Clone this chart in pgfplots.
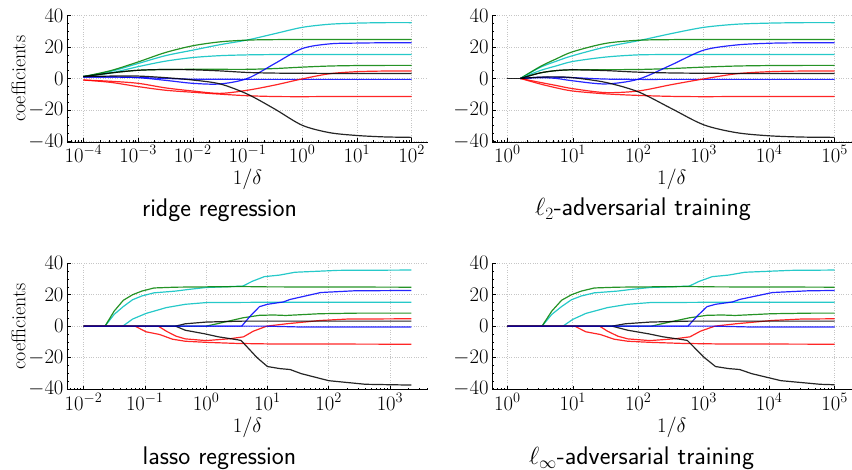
\documentclass[border=0pt]{standalone}
\usepackage{pgfplots}
\pgfplotsset{compat=1.18}
\usepackage{pgfplotstable}

\definecolor{mcyan}{rgb}{0,0.75,0.75}
\definecolor{mgreen}{rgb}{0,0.5,0}

\pgfplotsset{
  coefax/.style={
    scale only axis, height=126.5bp,
    ymin=-40.5, ymax=40,
    ytick={-40,-20,0,20,40}, minor y tick num=3,
    axis lines*=left, axis line style={black, line width=0.6bp},
    tick align=inside, major tick length=4bp, minor tick length=2bp,
    tick style={black, line width=0.5bp},
    grid=major, grid style={dotted, gray!45, line width=0.6bp},
    tick label style={font=\fontsize{20bp}{24bp}\selectfont},
    xlabel style={font=\fontsize{20bp}{24bp}\selectfont},
    ylabel shift=-4bp,
    xlabel={$1/\delta$},
    every axis plot/.append style={line width=1.2bp, opacity=0.85},
  },
}

% ridge path, columns = coefficient paths
\pgfplotstableread{
x        c1   c2   c3   c4  c5  c6   c7   c8   c9    c10
1e-4     1.2  1.2  1.2  1.2 1.2 0.9  0.9  -1   -1    1.2
3.162e-4 4.5  5    3.5  3.5 3.5 0.9  0.9  -1.8 -2.5  1.5
1e-3     9.5  10.5 7.5  5.2 5.2 0.5  0.6  -3.1 -5.2  1.5
3.162e-3 14.5 16.5 11   5.7 5.7 -1.2 0    -6   -7.5  0.5
1e-2     18   20.8 13.3 5.8 5.5 -3.1 -0.5 -8   -8.8  -1
3.162e-2 21.5 23.3 14.5 5.8 4.8 -3.5 -0.5 -9.5 -10   -3.5
0.1      24.5 24.4 15   5.8 3.8 0    -0.6 -7.5 -11   -10
0.3162   28.5 24.7 15.2 6.3 3.4 9.5  -0.6 -4.2 -11.5 -19.5
1        32.5 24.8 15.2 7.2 3.3 19   -0.6 -0.3 -11.6 -29.8
3.162    34.5 24.8 15.2 7.9 3.2 22   -0.6 3    -11.5 -34.5
10       35.2 24.8 15.2 8.2 3.2 22.5 -0.6 4.3  -11.5 -36.3
31.62    35.5 24.8 15.2 8.3 3.2 22.7 -0.6 4.7  -11.5 -37.2
100      35.5 24.8 15.2 8.3 3.2 22.7 -0.6 4.7  -11.5 -37.5
}\ridgetab

% l2-adversarial path (zero below 1/delta = 1.585)
\pgfplotstableread{
x       c1   c2   c3   c4  c5  c6   c7   c8   c9    c10
1.585   0    0    0    0   0   0    0    0    0     0
3.162   7    7.5  5    3.5 3.5 0.5  0.8  -2.5 -3.5  0.8
5.623   11   12.5 8    5   5   0    0.8  -4.5 -6    1
10      14.5 17   10.8 5.5 5.5 -1.5 0.5  -6.5 -8    0.5
31.62   20   22.3 13.6 5.6 5   -3.5 -0.4 -9   -9.8  -2.5
100     24   24.3 15   5.7 4   -0.5 -0.6 -8   -10.8 -8.5
316.2   28.5 24.7 15.2 6.3 3.5 8.5  -0.6 -4   -11.4 -19
1000    32.5 24.8 15.2 7.2 3.3 18   -0.6 -0.3 -11.6 -29.5
3162    34.5 24.8 15.2 7.9 3.2 21.3 -0.6 3    -11.5 -34.5
10000   35.2 24.8 15.2 8.2 3.2 22.4 -0.6 4.3  -11.5 -36.5
31620   35.5 24.8 15.2 8.3 3.2 22.7 -0.6 4.7  -11.5 -37.3
100000  35.5 24.8 15.2 8.3 3.2 22.7 -0.6 4.7  -11.5 -37.5
}\ltwotab

\begin{document}
\begin{tikzpicture}[x=1bp, y=1bp]
\useasboundingbox (0,0) rectangle (852,470);

% ---- ridge regression
\begin{semilogxaxis}[coefax, at={(67bp,327.9bp)}, anchor=south west, width=361bp,
  xmin=5.01e-5, xmax=199.5, ylabel={\fontsize{20bp}{24bp}\selectfont coefficients}]
\addplot[mcyan, smooth]  table[x=x, y=c1] {\ridgetab};
\addplot[mgreen, smooth] table[x=x, y=c2] {\ridgetab};
\addplot[mcyan, smooth]  table[x=x, y=c3] {\ridgetab};
\addplot[mgreen, smooth] table[x=x, y=c4] {\ridgetab};
\addplot[blue, smooth]   table[x=x, y=c6] {\ridgetab};
\addplot[blue, smooth]   table[x=x, y=c7] {\ridgetab};
\addplot[red, smooth]    table[x=x, y=c8] {\ridgetab};
\addplot[red, smooth]    table[x=x, y=c9] {\ridgetab};
\addplot[black, smooth]  table[x=x, y=c5] {\ridgetab};
\addplot[black, smooth]  table[x=x, y=c10] {\ridgetab};
\end{semilogxaxis}

% ---- l2 adversarial training
\begin{semilogxaxis}[coefax, at={(492bp,327.9bp)}, anchor=south west, width=359.5bp,
  xmin=0.584, xmax=1.81e5]
\addplot[mcyan, smooth]  table[x=x, y=c1] {\ltwotab};
\addplot[mgreen, smooth] table[x=x, y=c2] {\ltwotab};
\addplot[mcyan, smooth]  table[x=x, y=c3] {\ltwotab};
\addplot[mgreen, smooth] table[x=x, y=c4] {\ltwotab};
\addplot[blue, smooth]   table[x=x, y=c6] {\ltwotab};
\addplot[blue, smooth]   table[x=x, y=c7] {\ltwotab};
\addplot[red, smooth]    table[x=x, y=c8] {\ltwotab};
\addplot[red, smooth]    table[x=x, y=c9] {\ltwotab};
\addplot[black, smooth]  table[x=x, y=c5] {\ltwotab};
\addplot[black, smooth]  table[x=x, y=c10] {\ltwotab};
\addplot[black] coordinates {(1,0) (1.585,0)};
\end{semilogxaxis}

% ---- lasso regression
\begin{semilogxaxis}[coefax, at={(67bp,80.2bp)}, anchor=south west, width=361bp,
  xmin=5.37e-3, xmax=4169, ylabel={\fontsize{20bp}{24bp}\selectfont coefficients}]
\addplot[mcyan] coordinates {(0.01,0) (0.02239,0) (0.03162,7.5) (0.04467,12.5) (0.0631,16.8) (0.08913,19.2) (0.1413,21.2) (0.3162,22.3) (0.5012,23.3) (1,24.6) (3.981,25.5) (5.623,28.5) (8.913,31.5) (15.85,32.5) (28.18,34.3) (141.3,35.5) (2239,35.7)};
\addplot[mgreen] coordinates {(0.01,0) (0.02239,0) (0.03162,9.6) (0.04467,16.5) (0.0631,20) (0.08913,22.3) (0.1413,24.3) (0.3162,24.8) (1,25) (3.981,25.2) (10,25) (2239,24.8)};
\addplot[mcyan] coordinates {(0.01,0) (0.04365,0) (0.0631,4.5) (0.1047,8.1) (0.2239,11.8) (0.4571,13.9) (1,15) (10,15.2) (2239,15.2)};
\addplot[mgreen] coordinates {(0.01,0) (1,0) (1.585,1.7) (3.981,5.3) (7.413,6.9) (12.59,7.1) (19.95,6.8) (70.79,7.9) (316.2,8.3) (2239,8.3)};
\addplot[blue] coordinates {(0.01,0) (3.802,0) (5.248,6.4) (7.413,12.4) (10,13.9) (18.2,15.4) (23.44,17) (74.13,21.4) (263,22.5) (2239,22.7)};
\addplot[red] coordinates {(0.01,0) (0.166,0) (0.2239,-3.2) (0.3236,-6.4) (0.4571,-8.1) (1,-9.2) (2.455,-8) (4.074,-6.8) (5.888,-3.2) (9.772,0) (20.42,1.5) (72.44,3.6) (199.5,4.5) (2239,4.7)};
\addplot[red] coordinates {(0.01,0) (0.06918,0) (0.1047,-3.6) (0.1738,-5.3) (0.2818,-8.3) (0.4571,-9.6) (1,-10.3) (3.162,-11) (10,-11.3) (2239,-11.5)};
\addplot[black] coordinates {(0.01,0) (0.3162,0) (0.4571,1.5) (1,2.6) (3.981,3.2) (2239,3.2)};
\addplot[black] coordinates {(0.01,0) (0.3162,0) (0.4571,-2.6) (0.955,-4.9) (1.585,-6.8) (3.162,-8.6) (3.715,-9.1) (6.761,-20) (10,-25.7) (15.85,-27) (23.44,-27.6) (35.48,-30.2) (100,-34.7) (398.1,-37) (2239,-37.5)};
\addplot[blue] coordinates {(0.01,0) (10,0) (31.62,-0.5) (2239,-0.6)};
\end{semilogxaxis}

% ---- l-infinity adversarial training
\begin{semilogxaxis}[coefax, at={(492bp,80.2bp)}, anchor=south west, width=359.5bp,
  xmin=0.584, xmax=1.81e5]
\addplot[mcyan] coordinates {(1,0) (3.388,0) (4.786,7.5) (6.761,12.5) (9.55,16.8) (13.49,19.2) (21.38,21.2) (47.86,22.3) (75.86,23.3) (151.4,24.6) (602.6,25.5) (851.1,28.5) (1349,31.5) (2399,32.5) (4266,34.3) (21380,35.5) (1e5,35.7)};
\addplot[mgreen] coordinates {(1,0) (3.388,0) (4.786,9.6) (6.761,16.5) (9.55,20) (13.49,22.3) (21.38,24.3) (47.86,24.8) (151.4,25) (602.6,25.2) (1514,25) (1e5,24.8)};
\addplot[mcyan] coordinates {(1,0) (7.079,0) (10,4.3) (15.85,8.1) (33.88,11.8) (69.18,13.9) (151.4,15) (1514,15.2) (1e5,15.2)};
\addplot[mgreen] coordinates {(1,0) (158.5,0) (239.9,1.7) (602.6,5.3) (1122,6.9) (1905,7.1) (3020,6.8) (10720,7.9) (47860,8.3) (1e5,8.3)};
\addplot[blue] coordinates {(1,0) (575.4,0) (794.3,6.4) (1122,12.4) (1514,13.9) (2754,15.4) (3548,17) (11220,21.4) (39810,22.5) (1e5,22.7)};
\addplot[red] coordinates {(1,0) (25.7,0) (33.88,-3.2) (48.98,-6.4) (69.18,-8.1) (151.4,-9.2) (371.5,-8) (616.6,-6.8) (891.3,-3.2) (1479,0) (3090,1.5) (10960,3.6) (30200,4.5) (1e5,4.7)};
\addplot[red] coordinates {(1,0) (10.72,0) (15.85,-3.6) (26.3,-5.3) (42.66,-8.3) (69.18,-9.6) (151.4,-10.3) (478.6,-11) (1514,-11.3) (1e5,-11.5)};
\addplot[black] coordinates {(1,0) (39.81,0) (63.1,1.5) (151.4,2.6) (602.6,3.2) (1e5,3.2)};
\addplot[black] coordinates {(1,0) (39.81,0) (69.18,-2.6) (144.5,-4.9) (239.9,-6.8) (478.6,-8.6) (562.3,-9.1) (1023,-20) (1514,-25.7) (2399,-27) (3548,-27.6) (5370,-30.2) (15140,-34.7) (60260,-37) (1e5,-37.3)};
\addplot[blue] coordinates {(1,0) (1514,0) (4786,-0.5) (1e5,-0.6)};
\end{semilogxaxis}

% panel captions
\begin{scope}[every node/.style={font=\fontsize{25.5bp}{30bp}\selectfont\sffamily, anchor=base}]
\node at (219.5,253) {ridge regression};
\node at (643,254) {$\ell_2$-adversarial training};
\node at (219.5,5) {lasso regression};
\node at (641.5,5) {$\ell_\infty$-adversarial training};
\end{scope}
\end{tikzpicture}
\end{document}
